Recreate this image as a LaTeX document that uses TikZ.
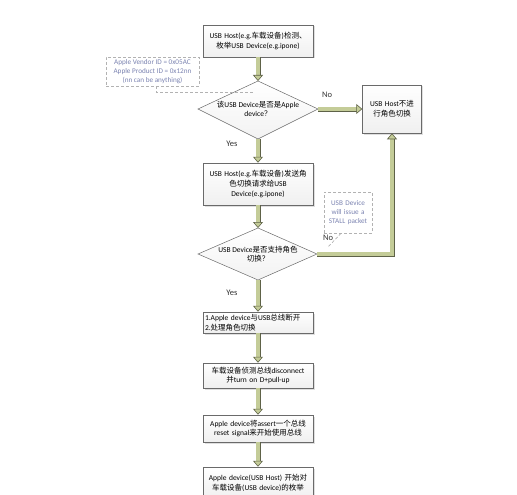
\documentclass[tikz,border=0pt]{standalone}
\usepackage{fontspec}
\setmainfont{Carlito}
\newfontfamily\cjkfont{Noto Sans CJK SC}
\newcommand{\zh}[1]{{\cjkfont #1}}
\usetikzlibrary{arrows.meta,shadows,calc}
\definecolor{arrlight}{HTML}{C4CC98}
\definecolor{arrdark}{HTML}{5E6248}
\definecolor{notetext}{HTML}{7A82B0}
\definecolor{boxline}{HTML}{6A6A6A}
\begin{document}
\begin{tikzpicture}[x=1pt,y=-1pt,
  every node/.style={font=\fontsize{7.5}{9.6}\selectfont},
  procbox/.style={draw=boxline, line width=0.5pt, top color=white, bottom color=gray!12,
    drop shadow={opacity=0.25,shadow xshift=1.5pt,shadow yshift=-1.5pt},
    text width=106pt, inner xsep=2pt, inner ysep=1pt, align=center},
  decshape/.style={draw=boxline, line width=0.5pt, top color=white, bottom color=gray!10},
  notebox/.style={draw=gray!60, line width=0.7pt, dash pattern=on 3pt off 2pt, text=notetext, align=center, inner sep=1pt, font=\fontsize{7.2}{8.8}\selectfont},
  notelink/.style={draw=gray!60, line width=0.7pt, dash pattern=on 3pt off 2pt},
  lbl/.style={font=\fontsize{8.5}{9}\selectfont, text=black!80},
  fat/.style={draw=none,
    postaction={draw=arrdark, line width=5pt, shorten >=5pt},
    postaction={draw=arrlight, line width=3.2pt, shorten >=5pt},
    postaction={draw=arrlight, line width=3.2pt,
      -{Triangle[length=6pt,width=10pt,line width=0.6pt,color=arrdark,fill=arrlight]}}}
]
\useasboundingbox (0,0) rectangle (517,495);
\clip (0,0) rectangle (517,495);

% process boxes
\node[procbox, minimum height=32pt] (b1) at (258,41) {USB Host(e.g.\zh{车载设备})\zh{检测、}\\\zh{枚举}USB Device(e.g.ipone)};
\node[procbox, minimum height=42pt] (b2) at (258,184) {USB Host(e.g.\zh{车载设备})\zh{发送角}\\\zh{色切换请求给}USB\\Device(e.g.ipone)};
\node[procbox, minimum height=21pt, align=left] (b3) at (258,322.5) {1.Apple device\zh{与}USB\zh{总线断开}\\2.\zh{处理角色切换}};
\node[procbox, minimum height=25pt] (b4) at (258,375.5) {\zh{车载设备侦测总线}disconnect\\\zh{并}turn on D+pull-up};
\node[procbox, minimum height=27pt] (b5) at (258,428.5) {Apple device\zh{将}assert\zh{一个总线}\\reset signal\zh{来开始使用总线}};
\node[procbox, minimum height=32pt] (b6) at (258,483) {Apple device(USB Host) \zh{开始对}\\\zh{车载设备}(USB device)\zh{的枚举}};

\node[procbox, text width=55pt, minimum height=48pt] (rb) at (392,109) {USB Host\zh{不进}\\\zh{行角色切换}};

% decision 1
\coordinate (d1t) at (258,81);
\coordinate (d1r) at (318,109);
\coordinate (d1b) at (258,139);
\coordinate (d1l) at (198,109);
\draw[decshape] (d1t) -- (d1r) -- (d1b) -- (d1l) -- cycle;
\node[align=center] (d1) at (258,109) {\zh{该}USB Device\zh{是否是}Apple\\device\zh{？}};

% decision 2
\coordinate (d2t) at (258,228);
\coordinate (d2r) at (317,254);
\coordinate (d2b) at (258,280);
\coordinate (d2l) at (198,254);
\draw[decshape] (d2t) -- (d2r) -- (d2b) -- (d2l) -- cycle;
\node[align=center] (d2) at (258,254) {USB Device\zh{是否支持角色}\\\zh{切换？}};

% notes
\node[notebox, minimum width=93pt, minimum height=29pt] (n1) at (152.5,71.5) {Apple Vendor ID = 0x05AC\\Apple Product ID = 0x12nn\\(nn can be anything)};
\coordinate (n1a) at (156,92);
\coordinate (n1b) at (253,92);
\draw[notelink] (n1.south -| n1a) -- (n1a) -- (n1b);

\node[notebox, text width=46pt, minimum height=41pt] (n2) at (348,212.5) {USB Device\\will issue a\\STALL packet};
\coordinate (n2a) at (328,247);
\draw[notelink] ($(n2.south)+(-7,0)$) -- (n2a);

% labels
\node[lbl] (no1) at (327,95) {No};
\node[lbl] (yes1) at (232,144) {Yes};
\node[lbl] (no2) at (328,238) {No};
\node[lbl] (yes2) at (232,293) {Yes};

% connectors
\path[fat] (b1.south) -- (d1t);
\path[fat] (d1r) -- (rb.west);
\path[fat] (d1b) -- (b2.north);
\path[fat] (b2.south) -- (d2t);
\path[fat] (d2r) -| (rb.south);
\path[fat] (d2b) -- (b3.north);
\path[fat] (b3.south) -- (b4.north);
\path[fat] (b4.south) -- (b5.north);
\path[fat] (b5.south) -- (b6.north);
\end{tikzpicture}
\end{document}
